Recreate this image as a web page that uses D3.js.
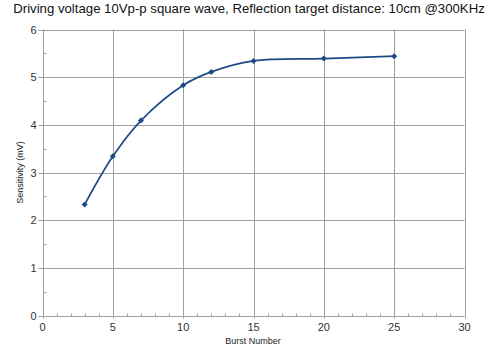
<!DOCTYPE html>
<html><head><meta charset="utf-8">
<script src="https://cdn.jsdelivr.net/npm/d3@7"></script>
<style>body{margin:0;background:#fff}svg{display:block}</style>
</head><body>
<svg id="c" width="500" height="348"></svg>
<script>
const title = "Driving voltage 10Vp-p square wave, Reflection target distance: 10cm @300KHz";
const xLabel = "Burst Number";
const yLabel = "Sensitivity (mV)";
const burst = [3, 5, 7, 10, 12, 15, 20, 25];
const sensitivity = [2.33, 3.34, 4.09, 4.83, 5.11, 5.34, 5.39, 5.44];
const xTicks = [0, 5, 10, 15, 20, 25, 30];
const yTicks = [0, 1, 2, 3, 4, 5, 6];

const svg = d3.select("#c");
const m = {l: 42.5, r: 464.5, t: 29.5, b: 315.5};
const x = d3.scaleLinear().domain([0, 30]).range([m.l, m.r]);
const y = d3.scaleLinear().domain([0, 6]).range([m.b, m.t]);
const grid = "#a0a0a0", font = "Liberation Sans, Arial, sans-serif";

svg.append("text").attr("x", 249).attr("y", 13).attr("text-anchor", "middle")
  .attr("font-family", font).attr("font-size", 13.2).attr("fill", "#111").text(title);

// gridlines
svg.append("g").selectAll("line").data(xTicks).join("line")
  .attr("x1", d => Math.round(x(d)) + 0.5).attr("x2", d => Math.round(x(d)) + 0.5)
  .attr("y1", m.t).attr("y2", m.b + 3).attr("stroke", grid);
svg.append("g").selectAll("line").data(yTicks).join("line")
  .attr("y1", d => Math.round(y(d)) + 0.5).attr("y2", d => Math.round(y(d)) + 0.5)
  .attr("x1", m.l - 4).attr("x2", m.r).attr("stroke", grid);

// minor ticks
const xMinor = d3.range(0, 31).filter(v => v % 5 !== 0);
svg.append("g").selectAll("line").data(xMinor).join("line")
  .attr("x1", d => Math.round(x(d)) + 0.5).attr("x2", d => Math.round(x(d)) + 0.5)
  .attr("y1", Math.round(y(0)) + 0.5).attr("y2", Math.round(y(0)) - 2.5).attr("stroke", grid);
const yMinor = d3.range(0.5, 6, 1);
svg.append("g").selectAll("line").data(yMinor).join("line")
  .attr("y1", d => Math.round(y(d)) + 0.5).attr("y2", d => Math.round(y(d)) + 0.5)
  .attr("x1", Math.round(x(0)) + 0.5).attr("x2", Math.round(x(0)) + 3.5).attr("stroke", grid);

// tick labels
svg.append("g").selectAll("text").data(yTicks).join("text")
  .attr("x", m.l - 6).attr("y", d => y(d) + 4).attr("text-anchor", "end")
  .attr("font-family", font).attr("font-size", 11).attr("fill", "#333").text(d => d);
svg.append("g").selectAll("text").data(xTicks).join("text")
  .attr("x", d => x(d)).attr("y", m.b + 15).attr("text-anchor", "middle")
  .attr("font-family", font).attr("font-size", 11).attr("fill", "#333").text(d => d);

svg.append("text").attr("x", 253).attr("y", 344).attr("text-anchor", "middle")
  .attr("font-family", font).attr("font-size", 9).attr("fill", "#222").text(xLabel);
svg.append("text").attr("transform", `translate(23,${(m.t + m.b) / 2}) rotate(-90)`)
  .attr("text-anchor", "middle").attr("font-family", font).attr("font-size", 9)
  .attr("fill", "#222").text(yLabel);

// line
const pts = burst.map((b, i) => [b, sensitivity[i]]);
const line = d3.line().x(d => x(d[0])).y(d => y(d[1])).curve(d3.curveCatmullRom.alpha(0.5));
svg.append("path").datum(pts).attr("d", line).attr("fill", "none")
  .attr("stroke", "#1c4a87").attr("stroke-width", 1.7);
svg.append("g").selectAll("path").data(pts).join("path")
  .attr("d", d3.symbol(d3.symbolSquare, 18))
  .attr("transform", d => `translate(${x(d[0])},${y(d[1])}) rotate(45)`)
  .attr("fill", "#1c4a87");
</script>
</body></html>
